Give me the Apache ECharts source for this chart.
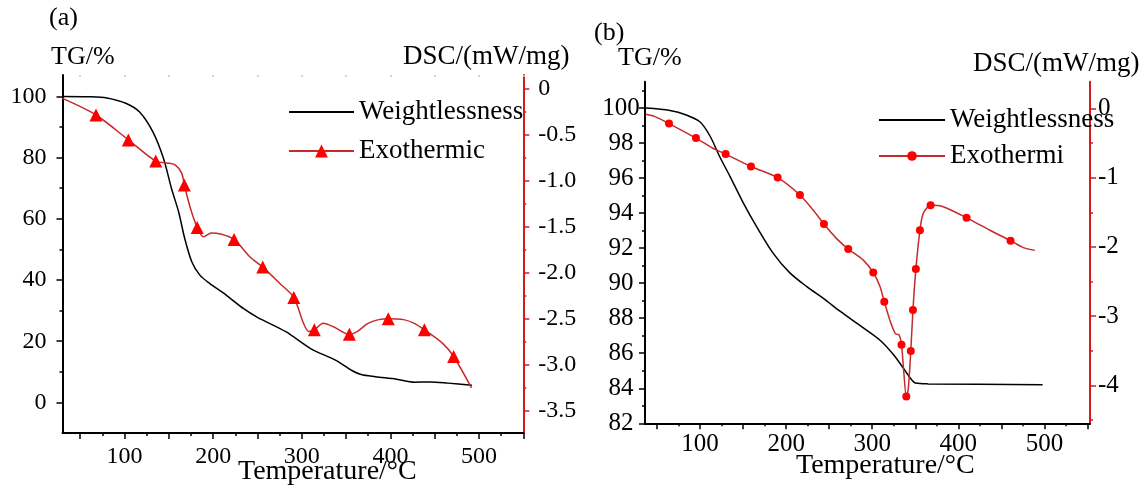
<!DOCTYPE html>
<html>
<head>
<meta charset="utf-8">
<script src="https://cdn.jsdelivr.net/npm/echarts@6/dist/echarts.min.js"></script>
<style>
html,body{margin:0;padding:0;background:#fff;}
#chart{width:1140px;height:486px;}
</style>
</head>
<body>
<div id="chart"></div>
<script>
// ---------- Panel (a) data ----------
const tgA_T = [30, 60, 80, 102, 117, 132, 144, 153, 161, 168, 176, 185, 196, 215, 234, 250, 282, 310, 338, 356, 367, 383, 407, 427, 445, 465, 492];
const tgA_V = [100, 99.9, 99.5, 97.7, 94.9, 88.4, 79.7, 69.9, 62.3, 53.5, 45.9, 41.6, 38.9, 35.0, 30.7, 27.8, 23.1, 17.6, 13.8, 10.5, 9.1, 8.4, 7.6, 6.6, 6.7, 6.3, 5.6];
const dscA_T = [30, 67.8, 104.3, 135.2, 147.6, 157, 164.5, 167.5, 174, 182, 189, 198, 208, 223.6, 241.6, 256, 275.5, 291, 302, 308, 314.2, 324.3, 336.3, 353.7, 362.5, 374.7, 386.8, 397.6, 415, 427, 438.4, 459.3, 471.4, 491.5];
const dscA_V = [-0.11, -0.29, -0.56, -0.79, -0.81, -0.83, -0.92, -1.05, -1.29, -1.51, -1.61, -1.57, -1.58, -1.64, -1.83, -1.94, -2.12, -2.27, -2.55, -2.64, -2.62, -2.55, -2.59, -2.67, -2.64, -2.55, -2.51, -2.50, -2.51, -2.55, -2.62, -2.77, -2.91, -3.25];
const dscA_mark = [0, 1, 1, 1, 0, 0, 0, 1, 0, 1, 0, 0, 0, 1, 0, 1, 0, 1, 0, 0, 1, 0, 0, 1, 0, 0, 0, 1, 0, 0, 1, 0, 1, 0];

// ---------- Panel (b) data ----------
const tgB_T = [37, 65, 84, 100, 111.5, 123, 134.7, 150, 166, 185, 204, 224, 244, 262.5, 288, 310, 325, 335.4, 344, 350.4, 365, 498];
const tgB_V = [100, 99.86, 99.6, 99.2, 98.4, 97.2, 96.1, 94.6, 93.2, 91.7, 90.6, 89.8, 89.1, 88.4, 87.5, 86.7, 85.9, 85.2, 84.6, 84.3, 84.25, 84.2];
const dscB_T = [37, 47.6, 63.9, 95.2, 115.3, 129.7, 159.1, 190.1, 216, 231.5, 243.9, 258.6, 272.1, 289.6, 301.2, 309, 314, 320.3, 326.8, 331.1, 334, 336.2, 339.6, 341.8, 344.8, 347.3, 350.7, 355.4, 359.2, 367.8, 382.5, 409.6, 436.7, 460.7, 475.4, 489];
const dscB_V = [-0.087, -0.12, -0.22, -0.43, -0.58, -0.66, -0.84, -1.00, -1.25, -1.47, -1.67, -1.88, -2.03, -2.19, -2.37, -2.57, -2.79, -3.05, -3.25, -3.27, -3.41, -3.73, -4.16, -4.06, -3.50, -2.91, -2.32, -1.76, -1.52, -1.40, -1.42, -1.58, -1.76, -1.91, -2.01, -2.05];
const dscB_mark = [0, 0, 1, 1, 0, 1, 1, 1, 1, 0, 1, 0, 1, 0, 1, 0, 1, 0, 0, 0, 1, 0, 1, 0, 1, 1, 1, 1, 0, 1, 0, 1, 0, 1, 0, 0];

// ---------- Tick labels ----------
const xLabels = [100, 200, 300, 400, 500];
const xMajorTicks = [50, 100, 150, 200, 250, 300, 350, 400, 450, 500, 550];
const xMinorTicks = [75, 125, 175, 225, 275, 325, 375, 425, 475, 525];
const yLeftA = [0, 20, 40, 60, 80, 100];
const yLeftAMinor = [10, 30, 50, 70, 90];
const yRightA = [0, -0.5, -1.0, -1.5, -2.0, -2.5, -3.0, -3.5];
const yRightAMinor = [-0.25, -0.75, -1.25, -1.75, -2.25, -2.75, -3.25];
const yLeftB = [82, 84, 86, 88, 90, 92, 94, 96, 98, 100];
const yLeftBMinor = [83, 85, 87, 89, 91, 93, 95, 97, 99, 101];
const yRightB = [0, -1, -2, -3, -4];
const yRightBMinor = [-0.5, -1.5, -2.5, -3.5, -4.5];

const FONT = '"Liberation Serif", "Times New Roman", serif';
const RED_LINE = '#c62a2a';
const RED_MARK = '#ff0000';
const RED_AXIS = '#d01c1c';

function pairs(T, V) { return T.map((t, i) => [t, V[i]]); }
function marked(T, V, M) { return T.map((t, i) => ({ value: [t, V[i]], symbol: M[i] ? undefined : 'none' })); }

function xMain(grid, min, max, fs, margin) {
  return {
    type: 'value', gridIndex: grid, position: 'bottom', min: min, max: max,
    axisLine: { show: true, onZero: false, lineStyle: { color: '#000', width: 2 } },
    axisTick: { show: true, customValues: xMajorTicks, length: 6, lineStyle: { color: '#000', width: 1.5 } },
    axisLabel: { show: true, customValues: xLabels, margin: margin, color: '#000', fontFamily: FONT, fontSize: fs },
    splitLine: { show: false }
  };
}
function xMinor(grid, min, max, pos, color, len) {
  return {
    type: 'value', gridIndex: grid, position: pos, min: min, max: max,
    axisLine: { show: false, onZero: false },
    axisTick: { show: true, customValues: pos === 'top' ? xMajorTicks : xMinorTicks, length: len, inside: pos === 'top', lineStyle: { color: color, width: 1.5 } },
    axisLabel: { show: false }, splitLine: { show: false }
  };
}
function yAx(grid, pos, min, max, ticks, labels, color, len, fs, margin, fmt, align) {
  const ax = {
    type: 'value', gridIndex: grid, position: pos, min: min, max: max,
    axisLine: { show: labels !== null, onZero: false, lineStyle: { color: color, width: 2 } },
    axisTick: { show: true, customValues: ticks, length: len, lineStyle: { color: color, width: 1.5 } },
    axisLabel: labels === null ? { show: false } : { show: true, customValues: labels, margin: margin, color: '#000', fontFamily: FONT, fontSize: fs, formatter: fmt },
    splitLine: { show: false }
  };
  if (labels !== null && align) ax.axisLabel.align = align;
  return ax;
}

const chart = echarts.init(document.getElementById('chart'), null, { renderer: 'canvas' });

const legendText = { fontFamily: FONT, fontSize: 27, lineHeight: 30, color: '#000' };

const option = {
  animation: false,
  backgroundColor: '#fff',
  grid: [
    { left: 62.5, top: 75, right: 616.7, bottom: 53 },
    { left: 645, top: 81.7, right: 50, bottom: 62.7 }
  ],
  xAxis: [
    xMain(0, 30, 550, 24, 12),
    xMinor(0, 30, 550, 'bottom', '#000', 3),
    xMinor(0, 30, 550, 'top', '#c8c8c8', 2),
    xMain(1, 36, 553, 25, 9),
    xMinor(1, 36, 553, 'bottom', '#000', 3)
  ],
  yAxis: [
    yAx(0, 'left', -10, 107, yLeftA, yLeftA, '#000', 6, 24, 16, null),
    yAx(0, 'left', -10, 107, yLeftAMinor, null, '#000', 3),
    yAx(0, 'right', -3.74, 0.144, yRightA, yRightA, RED_AXIS, 6, 24, 15, v => (v === 0 ? '0' : v.toFixed(1))),
    yAx(0, 'right', -3.74, 0.144, yRightAMinor, null, RED_AXIS, 3),
    yAx(1, 'left', 82, 101.5, yLeftB, yLeftB, '#000', 6, 25, 24, null, 'center'),
    yAx(1, 'left', 82, 101.5, yLeftBMinor, null, '#000', 3),
    yAx(1, 'right', -4.545, 0.384, yRightB, yRightB, RED_AXIS, 6, 25, 8, v => String(v)),
    yAx(1, 'right', -4.545, 0.384, yRightBMinor, null, RED_AXIS, 3)
  ],
  legend: [
    {
      data: [{ name: 'Weightlessness', itemStyle: { opacity: 0 } }, { name: 'Exothermic' }],
      orient: 'vertical', left: 288, top: 97, padding: 0,
      itemWidth: 65, itemHeight: 16, itemGap: 9, selectedMode: false,
      textStyle: legendText
    },
    {
      data: [{ name: 'Weightlessness', itemStyle: { opacity: 0 } }, { name: 'Exothermi' }],
      orient: 'vertical', left: 878, top: 105, padding: 0,
      itemWidth: 66, itemHeight: 12, itemGap: 6, selectedMode: false,
      textStyle: legendText
    }
  ],
  series: [
    {
      name: 'Weightlessness', type: 'line', xAxisIndex: 0, yAxisIndex: 0,
      data: pairs(tgA_T, tgA_V), symbol: 'none', smooth: 0.3,
      lineStyle: { color: '#000', width: 1.5 }, itemStyle: { color: '#000' }
    },
    {
      name: 'Exothermic', type: 'line', xAxisIndex: 0, yAxisIndex: 2,
      data: marked(dscA_T, dscA_V, dscA_mark), symbol: 'triangle', symbolSize: 13, showAllSymbol: true, smooth: 0.3,
      lineStyle: { color: RED_LINE, width: 1.5 }, itemStyle: { color: RED_MARK }
    },
    {
      name: 'Weightlessness', type: 'line', xAxisIndex: 3, yAxisIndex: 4,
      data: pairs(tgB_T, tgB_V), symbol: 'none', smooth: 0.3,
      lineStyle: { color: '#000', width: 1.5 }, itemStyle: { color: '#000' }
    },
    {
      name: 'Exothermi', type: 'line', xAxisIndex: 3, yAxisIndex: 6,
      data: marked(dscB_T, dscB_V, dscB_mark), symbol: 'circle', symbolSize: 8, showAllSymbol: true, smooth: 0.25,
      lineStyle: { color: RED_LINE, width: 1.5 }, itemStyle: { color: RED_MARK }
    }
  ],
  graphic: [
    { type: 'text', x: 49, y: 18, style: { text: '(a)', font: '26px ' + FONT, fill: '#000', verticalAlign: 'middle' } },
    { type: 'text', x: 51, y: 57, style: { text: 'TG/%', font: '26px ' + FONT, fill: '#000', verticalAlign: 'middle' } },
    { type: 'text', x: 403, y: 57, style: { text: 'DSC/(mW/mg)', font: '27px ' + FONT, fill: '#000', verticalAlign: 'middle' } },
    { type: 'text', x: 238, y: 472, style: { text: 'Temperature/°C', font: '28px ' + FONT, fill: '#000', verticalAlign: 'middle' } },
    { type: 'text', x: 594, y: 33, style: { text: '(b)', font: '26px ' + FONT, fill: '#000', verticalAlign: 'middle' } },
    { type: 'text', x: 618, y: 58, style: { text: 'TG/%', font: '26px ' + FONT, fill: '#000', verticalAlign: 'middle' } },
    { type: 'text', x: 973, y: 64, style: { text: 'DSC/(mW/mg)', font: '27px ' + FONT, fill: '#000', verticalAlign: 'middle' } },
    { type: 'text', x: 796, y: 466, style: { text: 'Temperature/°C', font: '28px ' + FONT, fill: '#000', verticalAlign: 'middle' } }
  ]
};
chart.setOption(option);
</script>
</body>
</html>
